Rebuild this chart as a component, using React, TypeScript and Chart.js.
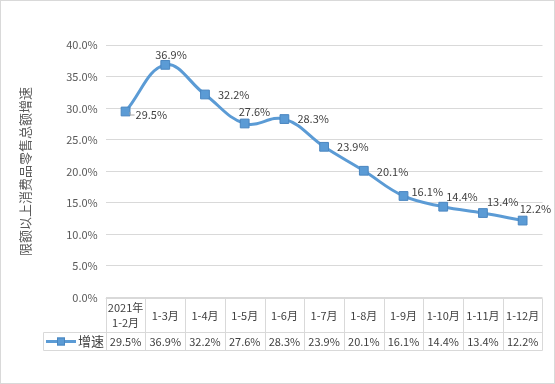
import React, { useEffect, useRef } from 'react';
import { Chart, registerables } from 'chart.js';

Chart.register(...registerables);

// ---- data ----
const categories: string[] = ['2021年\n1-2月', '1-3月', '1-4月', '1-5月', '1-6月', '1-7月', '1-8月', '1-9月', '1-10月', '1-11月', '1-12月'];
const seriesName = '增速';
const growth: number[] = [29.5, 36.9, 32.2, 27.6, 28.3, 23.9, 20.1, 16.1, 14.4, 13.4, 12.2];
const yMin = 0;
const yMax = 40;
const yStep = 5;
const yTitle = '限额以上消费品零售总额增速';

// ---- style ----
const LINE_COLOR = '#5B9BD5';
const MARKER_BORDER = '#4A86C0';
const GRID = '#D9D9D9';
const TEXT = '#595959';
const TABLE_TEXT = '#404040';
const LATIN = '"Liberation Sans Narrow", "Noto Sans CJK SC", sans-serif';
const CJK = '"Noto Sans CJK SC", sans-serif';
// label placement relative to point: [dx to text start, dy to text middle]
const labelPlacement: [number, number][] = [
  [10, 3], [-10, -10], [13, 0], [-6, -12], [13, 0], [13, 0], [13, 1], [8, -4], [3, -10], [4, -11], [-3, -12],
];

const fmt = (v: number) => v.toFixed(1) + '%';

const decorPlugin = {
  id: 'decor',
  afterDatasetsDraw(chart: any) {
    const ctx = chart.ctx as CanvasRenderingContext2D;
    const meta = chart.getDatasetMeta(0);
    ctx.save();
    ctx.font = `11px ${LATIN}`;
    ctx.fillStyle = TABLE_TEXT;
    ctx.textAlign = 'left';
    ctx.textBaseline = 'middle';
    meta.data.forEach((pt: any, i: number) => {
      const [dx, dy] = labelPlacement[i] || [13, 0];
      ctx.fillText(fmt(growth[i]), pt.x + dx, pt.y + dy);
    });
    // leader line for first label
    const p0 = meta.data[0];
    if (p0) {
      ctx.strokeStyle = '#A6A6A6';
      ctx.lineWidth = 1;
      ctx.beginPath();
      ctx.moveTo(p0.x + 4.5, p0.y + 0.5);
      ctx.lineTo(p0.x + 4.5, p0.y + 3.5);
      ctx.lineTo(p0.x + 9, p0.y + 3.5);
      ctx.stroke();
    }
    ctx.restore();
  },
  afterDraw(chart: any) {
    const ctx = chart.ctx as CanvasRenderingContext2D;
    const xs = chart.scales.x;
    const area = chart.chartArea;
    const n = categories.length;
    const band = (xs.getPixelForValue(1) - xs.getPixelForValue(0));
    const left = xs.getPixelForValue(0) - band / 2;
    const right = xs.getPixelForValue(n - 1) + band / 2;
    const top = Math.round(area.bottom) + 0.5;
    const mid = top + 34;
    const bot = mid + 18;
    const legendLeft = 43.5;

    ctx.save();
    ctx.strokeStyle = GRID;
    ctx.lineWidth = 1;
    ctx.beginPath();
    ctx.moveTo(left, top); ctx.lineTo(right, top);
    ctx.moveTo(legendLeft, mid); ctx.lineTo(right, mid);
    ctx.moveTo(legendLeft, bot); ctx.lineTo(right, bot);
    ctx.moveTo(legendLeft, mid); ctx.lineTo(legendLeft, bot);
    for (let k = 0; k <= n; k++) {
      const x = Math.round(left + band * k) + 0.5;
      ctx.moveTo(x, top); ctx.lineTo(x, bot);
    }
    ctx.stroke();

    // category row
    ctx.fillStyle = TABLE_TEXT;
    ctx.font = `11px ${LATIN}`;
    ctx.textAlign = 'center';
    ctx.textBaseline = 'middle';
    categories.forEach((c, i) => {
      const x = xs.getPixelForValue(i);
      const lines = c.split('\n');
      const cy = (top + mid) / 2;
      const lh = 15;
      lines.forEach((ln, j) => {
        ctx.fillText(ln, x, cy + (j - (lines.length - 1) / 2) * lh);
      });
      ctx.fillText(fmt(growth[i]), x, (mid + bot) / 2 + 0.5);
    });

    // legend key
    const ky = (mid + bot) / 2;
    ctx.strokeStyle = LINE_COLOR;
    ctx.lineWidth = 3;
    ctx.beginPath();
    ctx.moveTo(46, ky); ctx.lineTo(76, ky);
    ctx.stroke();
    ctx.fillStyle = LINE_COLOR;
    ctx.fillRect(57, ky - 4, 8, 8);
    ctx.strokeStyle = MARKER_BORDER;
    ctx.lineWidth = 1;
    ctx.strokeRect(57.5, ky - 3.5, 7, 7);
    ctx.fillStyle = TABLE_TEXT;
    ctx.font = `13px ${CJK}`;
    ctx.textAlign = 'left';
    ctx.fillText(seriesName, 78, ky);

    // y title
    ctx.save();
    ctx.translate(25, (area.top + area.bottom) / 2);
    ctx.rotate(-Math.PI / 2);
    ctx.fillStyle = TEXT;
    ctx.font = `13px ${CJK}`;
    ctx.textAlign = 'center';
    ctx.textBaseline = 'middle';
    ctx.fillText(yTitle, 0, 0);
    ctx.restore();

    // outer border
    ctx.strokeStyle = GRID;
    ctx.lineWidth = 1;
    ctx.strokeRect(0.5, 0.5, chart.width - 1, chart.height - 1);
    ctx.restore();
  },
};

export default function App() {
  const ref = useRef<HTMLCanvasElement | null>(null);
  useEffect(() => {
    if (!ref.current) return;
    const chart = new Chart(ref.current, {
      type: 'line',
      data: {
        labels: categories,
        datasets: [
          {
            label: seriesName,
            data: growth,
            borderColor: LINE_COLOR,
            backgroundColor: LINE_COLOR,
            borderWidth: 3,
            tension: 0.4,
            pointStyle: 'rect',
            pointRadius: 6.2,
            pointBackgroundColor: LINE_COLOR,
            pointBorderColor: MARKER_BORDER,
            pointBorderWidth: 1,
            clip: false as any,
          },
        ],
      },
      options: {
        responsive: false,
        animation: false,
        devicePixelRatio: 1,
        layout: { padding: { left: 0, right: 12.5, top: 45.3, bottom: 86.5 } },
        plugins: { legend: { display: false }, tooltip: { enabled: false }, title: { display: false } },
        scales: {
          x: { type: 'category', display: false, offset: true },
          y: {
            min: yMin,
            max: yMax,
            ticks: {
              stepSize: yStep,
              padding: 8,
              color: TEXT,
              font: { family: LATIN, size: 11 },
              callback: (v: any) => Number(v).toFixed(1) + '%',
            },
            grid: { color: GRID, lineWidth: 1, drawTicks: false },
            border: { display: false },
            afterFit: (s: any) => { s.width = 105.7; },
          },
        },
      },
      plugins: [decorPlugin],
    });
    return () => chart.destroy();
  }, []);
  return (
    <div style={{ position: 'absolute', left: 0, top: 0, width: 555, height: 384, background: '#fff' }}>
      <canvas ref={ref} width={555} height={384} style={{ display: 'block', width: 555, height: 384 }} />
    </div>
  );
}
